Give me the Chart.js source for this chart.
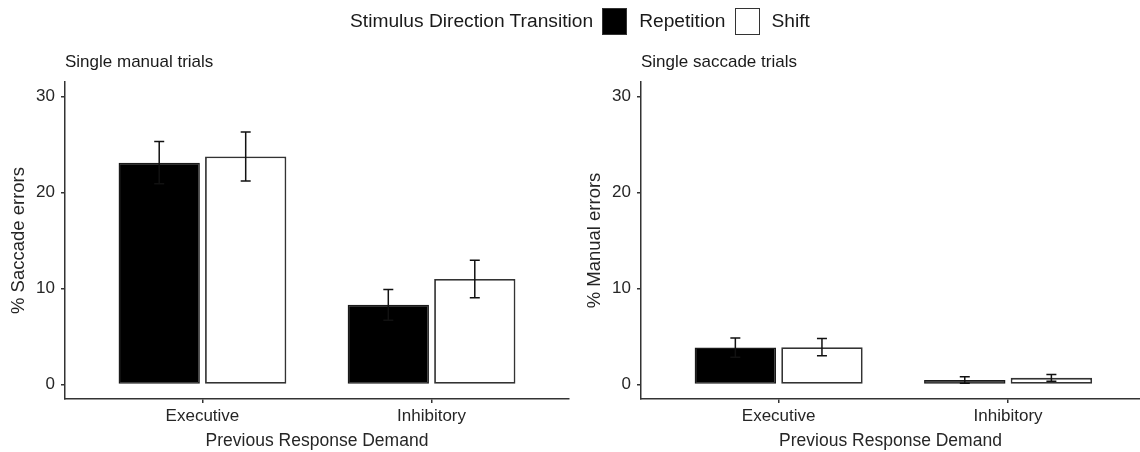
<!DOCTYPE html>
<html>
<head>
<meta charset="utf-8">
<script src="https://cdn.jsdelivr.net/npm/chart.js@4"></script>
<style>
  body { margin: 0; background: #fff; font-family: 'Liberation Sans', Arial, sans-serif; }
  #wrap { position: relative; width: 1140px; height: 452px; overflow: hidden; }
  canvas { position: absolute; top: 0; }
  #legend { position: absolute; left: 350px; top: 0; height: 42px; display: flex; align-items: center; font-size: 19.2px; color: #1a1a1a; white-space: nowrap; }
  .box { width: 23px; height: 25px; border: 1.5px solid #333; margin: 0 12px 0 9px; }
</style>
</head>
<body>
<div id="wrap">
  <canvas id="manual" width="575" height="452" style="left:0"></canvas>
  <canvas id="saccade" width="565" height="452" style="left:575px"></canvas>
  <div id="legend">
    <span>Stimulus Direction Transition</span>
    <span class="box" style="background:#000"></span><span>Repetition</span>
    <span class="box" style="background:#fff"></span><span>Shift</span>
  </div>
</div>
<script>
// 値は図から読み取り
const categories = [ 'Executive', 'Inhibitory' ];
const yTicks = [ 0, 10, 20, 30 ];

// Single manual trials (% Saccade errors)
const manualRep = [ 23.1, 8.3 ];
const manualRepErr = [ 2.2, 1.6 ];
const manualShift = [ 23.75, 11.0 ];
const manualShiftErr = [ 2.55, 1.95 ];

// Single saccade trials (% Manual errors)
const saccadeRep = [ 3.85, 0.48 ];
const saccadeRepErr = [ 1.0, 0.34 ];
const saccadeShift = [ 3.9, 0.7 ];
const saccadeShiftErr = [ 0.9, 0.34 ];

const FONT = "'Liberation Sans', Arial, sans-serif";
const INK = '#333';
const TEXT = '#262626';

const toPoints = ( vals ) => vals.map( ( v, i ) => ( { x: i + 1, y: v } ) );

// エラーバー
const errorBars = {
    id: 'errorBars',
    afterDatasetsDraw( chart ) {
        const { ctx, scales: { y } } = chart;
        ctx.save();
        ctx.strokeStyle = '#111';
        ctx.lineWidth = 1.5;
        chart.data.datasets.forEach( ( ds, di ) => {
            chart.getDatasetMeta( di ).data.forEach( ( bar, i ) => {
                const v = ds.data[ i ].y, e = ds.errors[ i ];
                const top = y.getPixelForValue( v + e ), bot = y.getPixelForValue( v - e );
                ctx.beginPath();
                ctx.moveTo( bar.x, top ); ctx.lineTo( bar.x, bot );
                ctx.moveTo( bar.x - 5, top ); ctx.lineTo( bar.x + 5, top );
                ctx.moveTo( bar.x - 5, bot ); ctx.lineTo( bar.x + 5, bot );
                ctx.stroke();
            });
        });
        ctx.restore();
    }
};

// パネルタイトル（プロット領域の左端に揃える）
const panelTitle = {
    id: 'panelTitle',
    afterDraw( chart, args, opts ) {
        const { ctx, chartArea } = chart;
        ctx.save();
        ctx.font = '17px ' + FONT;
        ctx.fillStyle = '#1a1a1a';
        ctx.textBaseline = 'middle';
        ctx.fillText( opts.text, chartArea.left, 62 );
        ctx.restore();
    }
};

function makePanel( id, title, yTitle, rep, repErr, shift, shiftErr, yWidth, yTitlePad, xMax, padRight ) {
    return new Chart( document.getElementById( id ), {
        type: 'bar',
        data: {
            datasets: [
                { label: 'Repetition', data: toPoints( rep ), errors: repErr,
                  backgroundColor: '#000', borderColor: '#1a1a1a', borderWidth: 1.5, borderSkipped: false },
                { label: 'Shift', data: toPoints( shift ), errors: shiftErr,
                  backgroundColor: '#fff', borderColor: INK, borderWidth: 1.8, borderSkipped: false }
            ]
        },
        options: {
            responsive: false,
            animation: false,
            categoryPercentage: 0.755,
            barPercentage: 0.94,
            layout: { padding: { top: 82, right: padRight, left: 0, bottom: 0 } },
            plugins: {
                legend: { display: false },
                tooltip: { enabled: false },
                panelTitle: { text: title }
            },
            scales: {
                x: {
                    type: 'linear',
                    min: 0.4,
                    max: xMax,
                    offset: false,
                    afterBuildTicks: ( s ) => { s.ticks = categories.map( ( c, i ) => ( { value: i + 1 } ) ); },
                    afterFit: ( s ) => { s.height = 53; },
                    grid: { offset: false, drawOnChartArea: false, drawTicks: true, tickLength: 4, color: INK, lineWidth: 1.5 },
                    border: { color: INK, width: 1.5 },
                    ticks: {
                        callback: ( v ) => categories[ v - 1 ],
                        font: { family: FONT, size: 17 },
                        color: TEXT,
                        padding: 3,
                        maxRotation: 0
                    },
                    title: {
                        display: true,
                        text: 'Previous Response Demand',
                        font: { family: FONT, size: 17.5 },
                        color: TEXT,
                        padding: { top: 0, bottom: 0 }
                    }
                },
                y: {
                    min: -1.5,
                    max: 31.5,
                    afterBuildTicks: ( s ) => { s.ticks = yTicks.map( v => ( { value: v } ) ); },
                    afterFit: ( s ) => { s.width = yWidth; },
                    grid: { drawOnChartArea: false, drawTicks: true, tickLength: 4, color: INK, lineWidth: 1.5 },
                    border: { color: INK, width: 1.5 },
                    ticks: {
                        font: { family: FONT, size: 17 },
                        color: TEXT,
                        padding: 6
                    },
                    title: {
                        display: true,
                        text: yTitle,
                        font: { family: FONT, size: 18.5 },
                        color: TEXT,
                        padding: { top: yTitlePad, bottom: 0 }
                    }
                }
            }
        },
        plugins: [ errorBars, panelTitle ]
    });
}

makePanel( 'manual', 'Single manual trials', '% Saccade errors',
    manualRep, manualRepErr, manualShift, manualShiftErr, 65, 8, 2.6, 6 );
makePanel( 'saccade', 'Single saccade trials', '% Manual errors',
    saccadeRep, saccadeRepErr, saccadeShift, saccadeShiftErr, 66, 9, 2.575, 0 );
</script>
</body>
</html>
